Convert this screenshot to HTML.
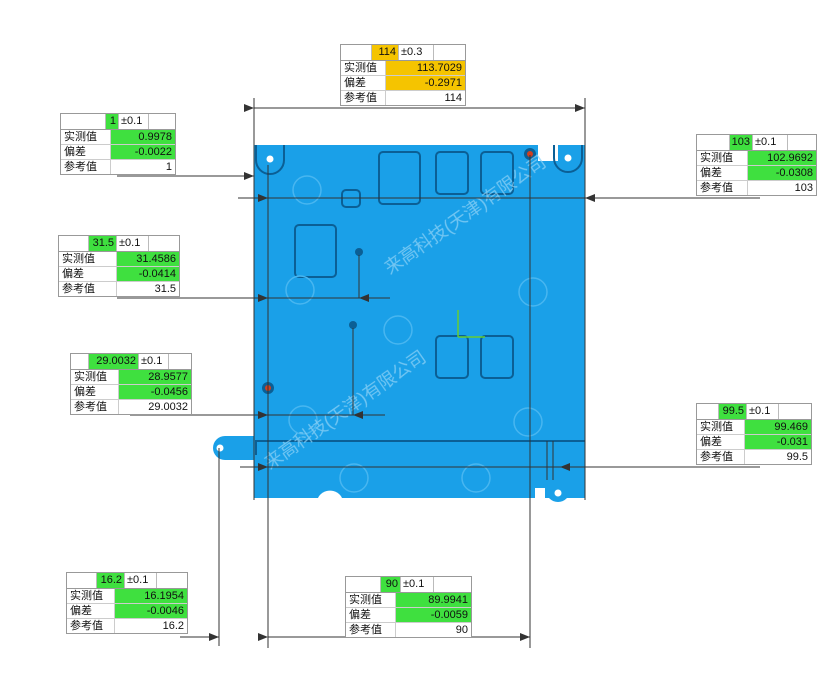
<!DOCTYPE html>
<html><head><meta charset="utf-8"><style>
body{margin:0;background:#fff;width:840px;height:688px;overflow:hidden;position:relative;font-family:"Liberation Sans","Noto Sans CJK SC",sans-serif;}
.t{position:absolute;border:1px solid #999;background:#fff;font-size:11px;color:#111;}
.h{height:15px;position:relative;border-bottom:1px solid #999;display:flex}
.h span{height:15px;line-height:15px;border-right:1px solid #bbb;box-sizing:border-box;text-align:right;padding-right:2px}
.r{height:14px;display:flex;border-bottom:1px solid #ccc}
.r:last-child{border-bottom:none}
.r .l{box-sizing:border-box;padding-left:3px;line-height:14px;border-right:1px solid #ccc}
.r .v{flex:1;text-align:right;padding-right:3px;line-height:14px}
.g{background:#3fe03f}.y{background:#f5c400}
svg{position:absolute;left:0;top:0}
</style></head><body>
<svg width="840" height="688">
<defs><marker id="a" markerWidth="10" markerHeight="8" refX="10" refY="4" orient="auto"><path d="M0,0L10,4L0,8z" fill="#333"/></marker></defs>
<!-- plate -->
<g>
<rect x="254" y="145" width="331" height="353" fill="#1aa0e8"/>
<path d="M254,436 L225,436 A12,12 0 1 0 225,460 L254,460z" fill="#1aa0e8"/>
<circle cx="220" cy="448" r="3.5" fill="#fff"/>
<circle cx="558" cy="490" r="12" fill="#1aa0e8"/>
<circle cx="558" cy="493" r="3.5" fill="#fff"/>
<path d="M318,498 A13,12 0 0 1 342,498z" fill="#fff"/>
<rect x="535" y="488" width="10" height="12" fill="#fff"/>
<rect x="538" y="145" width="20" height="16" fill="#fff"/>
<path d="M256,145 L256,160 A14,14 0 0 0 284,160 L284,145" fill="none" stroke="#0b5f95" stroke-width="2"/>
<path d="M554,145 L554,158 A13,13 0 0 0 582,158 L582,145" fill="none" stroke="#0b5f95" stroke-width="2"/>
<circle cx="270" cy="159" r="3.5" fill="#fff"/><circle cx="568" cy="158" r="3.5" fill="#fff"/>
<circle cx="530" cy="154" r="6" fill="#0b5f95"/><circle cx="530" cy="154" r="3" fill="#d04020"/>
<circle cx="268" cy="388" r="6" fill="#0b5f95"/><circle cx="268" cy="388" r="3" fill="#d04020"/>
<g fill="none" stroke="#0b5f95" stroke-width="2">
<rect x="379" y="152" width="41" height="52" rx="4"/>
<rect x="436" y="152" width="32" height="42" rx="4"/>
<rect x="481" y="152" width="32" height="42" rx="4"/>
<rect x="342" y="190" width="18" height="17" rx="4"/>
<rect x="295" y="225" width="41" height="52" rx="4"/>
<rect x="436" y="336" width="32" height="42" rx="4"/>
<rect x="481" y="336" width="32" height="42" rx="4"/>
<path d="M256,455 L256,441 L585,441"/>
</g>
<g fill="none" stroke="#48b6f0" stroke-width="1.5">
<circle cx="307" cy="190" r="14"/><circle cx="300" cy="290" r="14"/><circle cx="398" cy="330" r="14"/>
<circle cx="533" cy="292" r="14"/><circle cx="303" cy="420" r="14"/><circle cx="528" cy="422" r="14"/>
<circle cx="354" cy="478" r="14"/><circle cx="476" cy="478" r="14"/>
</g>
<circle cx="359" cy="252" r="4" fill="#0b5f95"/><circle cx="353" cy="325" r="4" fill="#0b5f95"/>
<g fill="#8fd2f6" font-size="18" opacity="0.75">
<text x="390" y="275" transform="rotate(-35 390 275)">来高科技(天津)有限公司</text>
<text x="270" y="470" transform="rotate(-35 270 470)">来高科技(天津)有限公司</text>
</g>
<line x1="458" y1="337" x2="458" y2="310" stroke="#6c3" stroke-width="1.5"/>
<line x1="458" y1="337" x2="485" y2="337" stroke="#6c3" stroke-width="1.5"/>
</g>
<!-- dimension lines -->
<g stroke="#333" stroke-width="1" fill="none">
<line x1="254" y1="98" x2="254" y2="500"/><line x1="585" y1="98" x2="585" y2="500"/>
<line x1="254" y1="108" x2="585" y2="108" marker-start="url(#a)" marker-end="url(#a)"/>
<line x1="268" y1="165" x2="268" y2="648"/><line x1="530" y1="155" x2="530" y2="648"/>
<line x1="219" y1="448" x2="219" y2="646"/>
<line x1="268" y1="637" x2="530" y2="637" marker-start="url(#a)" marker-end="url(#a)"/>
<line x1="180" y1="637" x2="219" y2="637" marker-end="url(#a)"/>
<line x1="290" y1="637" x2="268" y2="637"/>
<line x1="117" y1="176" x2="254" y2="176"/>
<line x1="220" y1="176" x2="254" y2="176" marker-end="url(#a)"/>
<line x1="238" y1="198" x2="585" y2="198"/>
<line x1="240" y1="198" x2="268" y2="198" marker-end="url(#a)"/>
<line x1="760" y1="198" x2="585" y2="198" marker-end="url(#a)"/>
<line x1="117" y1="298" x2="390" y2="298"/>
<line x1="230" y1="298" x2="268" y2="298" marker-end="url(#a)"/>
<line x1="390" y1="298" x2="359" y2="298" marker-end="url(#a)"/>
<line x1="359" y1="255" x2="359" y2="298"/>
<line x1="130" y1="415" x2="385" y2="415"/>
<line x1="230" y1="415" x2="268" y2="415" marker-end="url(#a)"/>
<line x1="385" y1="415" x2="353" y2="415" marker-end="url(#a)"/>
<line x1="353" y1="328" x2="353" y2="415"/>
<line x1="240" y1="467" x2="760" y2="467"/>
<line x1="240" y1="467" x2="268" y2="467" marker-end="url(#a)"/>
<line x1="600" y1="467" x2="560" y2="467" marker-end="url(#a)"/>
<line x1="547" y1="441" x2="547" y2="480"/><line x1="553" y1="441" x2="553" y2="480"/>
</g>
</svg>

<div class="t" style="left:340px;top:44px;width:124px">
<div class="h"><span style="width:31px"></span><span class="y" style="width:27px">114</span><span style="width:35px;text-align:left;padding-left:2px">±0.3</span></div>
<div class="r"><span class="l" style="width:45px">实测值</span><span class="v y">113.7029</span></div>
<div class="r"><span class="l" style="width:45px">偏差</span><span class="v y">-0.2971</span></div>
<div class="r"><span class="l" style="width:45px">参考值</span><span class="v">114</span></div></div>

<div class="t" style="left:60px;top:113px;width:114px">
<div class="h"><span style="width:45px"></span><span class="g" style="width:13px">1</span><span style="width:30px;text-align:left;padding-left:2px">±0.1</span></div>
<div class="r"><span class="l" style="width:50px">实测值</span><span class="v g">0.9978</span></div>
<div class="r"><span class="l" style="width:50px">偏差</span><span class="v g">-0.0022</span></div>
<div class="r"><span class="l" style="width:50px">参考值</span><span class="v">1</span></div></div>

<div class="t" style="left:696px;top:134px;width:119px">
<div class="h"><span style="width:33px"></span><span class="g" style="width:23px">103</span><span style="width:35px;text-align:left;padding-left:2px">±0.1</span></div>
<div class="r"><span class="l" style="width:51px">实测值</span><span class="v g">102.9692</span></div>
<div class="r"><span class="l" style="width:51px">偏差</span><span class="v g">-0.0308</span></div>
<div class="r"><span class="l" style="width:51px">参考值</span><span class="v">103</span></div></div>

<div class="t" style="left:58px;top:235px;width:120px">
<div class="h"><span style="width:30px"></span><span class="g" style="width:28px">31.5</span><span style="width:32px;text-align:left;padding-left:2px">±0.1</span></div>
<div class="r"><span class="l" style="width:58px">实测值</span><span class="v g">31.4586</span></div>
<div class="r"><span class="l" style="width:58px">偏差</span><span class="v g">-0.0414</span></div>
<div class="r"><span class="l" style="width:58px">参考值</span><span class="v">31.5</span></div></div>

<div class="t" style="left:70px;top:353px;width:120px">
<div class="h"><span style="width:18px"></span><span class="g" style="width:50px">29.0032</span><span style="width:30px;text-align:left;padding-left:2px">±0.1</span></div>
<div class="r"><span class="l" style="width:48px">实测值</span><span class="v g">28.9577</span></div>
<div class="r"><span class="l" style="width:48px">偏差</span><span class="v g">-0.0456</span></div>
<div class="r"><span class="l" style="width:48px">参考值</span><span class="v">29.0032</span></div></div>

<div class="t" style="left:696px;top:403px;width:114px">
<div class="h"><span style="width:22px"></span><span class="g" style="width:28px">99.5</span><span style="width:32px;text-align:left;padding-left:2px">±0.1</span></div>
<div class="r"><span class="l" style="width:48px">实测值</span><span class="v g">99.469</span></div>
<div class="r"><span class="l" style="width:48px">偏差</span><span class="v g">-0.031</span></div>
<div class="r"><span class="l" style="width:48px">参考值</span><span class="v">99.5</span></div></div>

<div class="t" style="left:66px;top:572px;width:120px">
<div class="h"><span style="width:30px"></span><span class="g" style="width:28px">16.2</span><span style="width:32px;text-align:left;padding-left:2px">±0.1</span></div>
<div class="r"><span class="l" style="width:48px">实测值</span><span class="v g">16.1954</span></div>
<div class="r"><span class="l" style="width:48px">偏差</span><span class="v g">-0.0046</span></div>
<div class="r"><span class="l" style="width:48px">参考值</span><span class="v">16.2</span></div></div>

<div class="t" style="left:345px;top:576px;width:125px">
<div class="h"><span style="width:35px"></span><span class="g" style="width:20px">90</span><span style="width:33px;text-align:left;padding-left:2px">±0.1</span></div>
<div class="r"><span class="l" style="width:50px">实测值</span><span class="v g">89.9941</span></div>
<div class="r"><span class="l" style="width:50px">偏差</span><span class="v g">-0.0059</span></div>
<div class="r"><span class="l" style="width:50px">参考值</span><span class="v">90</span></div></div>
</body></html>
